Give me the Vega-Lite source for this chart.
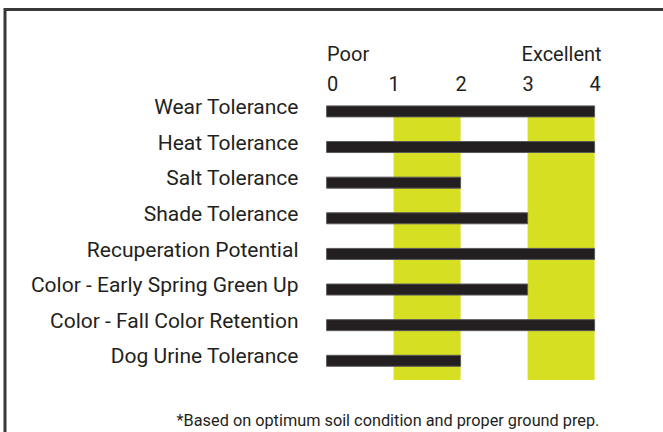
{
  "$schema": "https://vega.github.io/schema/vega-lite/v6.json",
  "width": 703.5,
  "height": 440,
  "padding": {"left": 5, "top": 9.5, "right": 0, "bottom": 0},
  "autosize": {"type": "none"},
  "background": "white",
  "config": {"view": {"stroke": "#383838", "strokeWidth": 3}},
  "datasets": {
    "ratings": [
      {"attribute": "Wear Tolerance", "score": 4},
      {"attribute": "Heat Tolerance", "score": 4},
      {"attribute": "Salt Tolerance", "score": 2},
      {"attribute": "Shade Tolerance", "score": 3},
      {"attribute": "Recuperation Potential", "score": 4},
      {"attribute": "Color - Early Spring Green Up", "score": 3},
      {"attribute": "Color - Fall Color Retention", "score": 4},
      {"attribute": "Dog Urine Tolerance", "score": 2}
    ],
    "bands": [
      {"band": "1-2", "start": 1, "end": 2},
      {"band": "3-4", "start": 3, "end": 4}
    ]
  },
  "layer": [
    {
      "data": {"name": "bands"},
      "mark": {"type": "rect", "color": "#d7df23"},
      "encoding": {
        "x": {
          "field": "start",
          "type": "quantitative",
          "scale": {"domain": [-4.8, 5.7], "nice": false, "zero": false},
          "axis": {
            "orient": "top",
            "values": [0, 1, 2, 3, 3.5, 4],
            "labelExpr": "datum.value == 0 ? ['Poor', '0'] : datum.value == 3.5 ? ['Excellent', ''] : ['', datum.label]",
            "labelAlign": {"expr": "datum.value == 0 ? 'left' : 'center'"},
            "offset": -55.5,
            "ticks": false,
            "domain": false,
            "grid": false,
            "labelFont": "Roboto",
            "labelFontSize": 20,
            "labelColor": "#231f20",
            "labelPadding": 1,
            "labelBaseline": "bottom",
            "labelLineHeight": 30,
            "labelOverlap": false,
            "labelFlush": false,
            "labelBound": false,
            "title": null
          }
        },
        "x2": {"field": "end"},
        "y": {
          "datum": "Wear Tolerance",
          "type": "nominal",
          "scale": {
            "type": "band",
            "domain": ["Wear Tolerance", "Heat Tolerance", "Salt Tolerance", "Shade Tolerance", "Recuperation Potential", "Color - Early Spring Green Up", "Color - Fall Color Retention", "Dog Urine Tolerance"],
            "range": [85.5, 370.5],
            "paddingInner": 0,
            "paddingOuter": 0
          }
        },
        "y2": {"datum": "Dog Urine Tolerance", "bandPosition": 1}
      }
    },
    {
      "data": {"name": "ratings"},
      "mark": {"type": "bar", "color": "#231f20", "size": 11, "stroke": "#58595b", "strokeWidth": 1, "yOffset": -1.4},
      "encoding": {
        "x": {
          "field": "score",
          "type": "quantitative",
          "axis": {
            "orient": "bottom",
            "labels": false,
            "ticks": false,
            "domain": false,
            "grid": false,
            "title": "*Based on optimum soil condition and proper ground prep.",
            "titleFont": "Roboto",
            "titleFontSize": 16.3,
            "titleFontWeight": "normal",
            "titleColor": "#231f20",
            "titleX": 382.5,
            "titleY": -24.5,
            "titleAlign": "center",
            "titleBaseline": "alphabetic"
          }
        },
        "x2": {"datum": 0},
        "y": {
          "field": "attribute",
          "type": "nominal",
          "sort": null,
          "axis": {
            "orient": "left",
            "offset": -293,
            "ticks": false,
            "domain": false,
            "grid": false,
            "labelFont": "Roboto",
            "labelFontSize": 21,
            "labelColor": "#231f20",
            "labelPadding": 0,
            "labelBaseline": "alphabetic",
            "labelOffset": 1.2,
            "labelLimit": 0,
            "title": null
          }
        }
      }
    }
  ],
  "resolve": {"axis": {"x": "independent"}}
}
